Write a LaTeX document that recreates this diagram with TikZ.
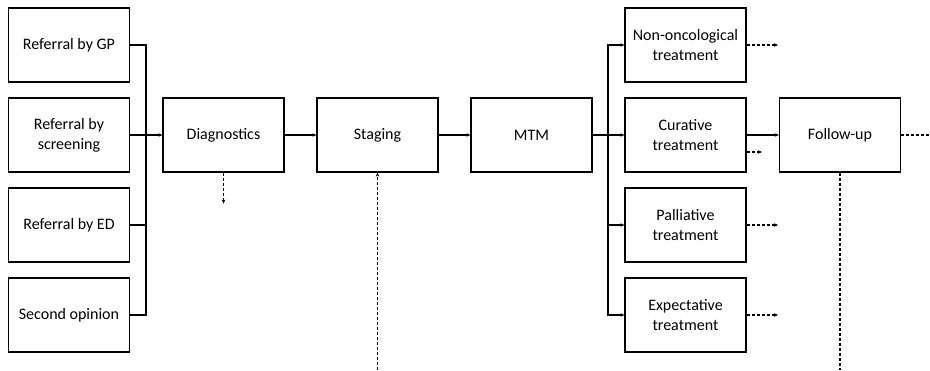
\documentclass[tikz,border=0pt]{standalone}
\usepackage{fontspec}
\setmainfont{Carlito}
\usetikzlibrary{arrows.meta,calc}
\begin{document}
\begin{tikzpicture}[x=1pt,y=-1pt,
  box/.style={draw, line width=1.2pt, minimum width=121pt, minimum height=74pt,
    inner sep=0pt, align=center, font=\fontsize{16}{20}\selectfont},
  link/.style={line width=1.2pt, -{Stealth[length=4pt,width=3.5pt]}},
  plain/.style={line width=1.2pt},
  dlink/.style={line width=1.2pt, dash pattern=on 3pt off 2pt, -{Stealth[length=4pt,width=3.5pt]}},
  dplain/.style={line width=1.2pt, dash pattern=on 3pt off 2pt}]
\useasboundingbox (0,0) rectangle (930,370);
% referral sources
\node[box] (gp)  at (69,45)  {Referral by GP};
\node[box] (scr) at (69,135) {Referral by\\screening};
\node[box] (ed)  at (69,225) {Referral by ED};
\node[box] (so)  at (69,315) {Second opinion};
% main pathway
\node[box] (diag) at (223.5,135) {Diagnostics};
\node[box] (stag) at (377.5,135) {Staging};
\node[box] (mtm)  at (531.5,135) {MTM};
% treatments
\node[box] (non) at (685.5,45)  {Non-oncological\\treatment};
\node[box] (cur) at (685.5,135) {Curative\\treatment};
\node[box] (pal) at (685.5,225) {Palliative\\treatment};
\node[box] (exp) at (685.5,315) {Expectative\\treatment};
\node[box] (fu)  at (840,135)   {Follow-up};
% bus joining the referral sources
\coordinate (busL) at (146,0);
\draw[plain] (gp.east) -| (busL |- so.east) -- (so.east);
\draw[plain] (ed.east) -- (busL |- ed.east);
\draw[link] (scr.east) -- (diag.west);
\draw[link] (diag) -- (stag);
\draw[link] (stag) -- (mtm);
% bus to the treatments
\coordinate (busR) at (608,0);
\draw[link] (mtm) -- (cur);
\draw[link] (busR |- cur.west) |- (non.west);
\draw[link] (busR |- cur.west) |- (exp.west);
\draw[link] (busR |- pal.west) -- (pal.west);
\draw[link] (cur) -- (fu);
% open-ended dashed exits
\coordinate (dd) at ($(diag.south)+(0,31)$);
\draw[dlink] (diag.south) -- (dd);
\coordinate (sb) at (377.5,370);
\draw[dlink] (sb) -- (stag.south);
\coordinate (ne) at (778,45);
\draw[dlink] (non.east) -- (ne);
\coordinate (ce) at (762,152);
\draw[dlink] (cur.east |- ce) -- (ce);
\coordinate (pe) at (778,225);
\draw[dlink] (pal.east) -- (pe);
\coordinate (ee) at (778,315);
\draw[dlink] (exp.east) -- (ee);
\coordinate (fr) at (930,135);
\draw[dplain] (fu.east) -- (fr);
\coordinate (fb) at (840,370);
\draw[dplain] (fu.south) -- (fb);
\end{tikzpicture}
\end{document}
